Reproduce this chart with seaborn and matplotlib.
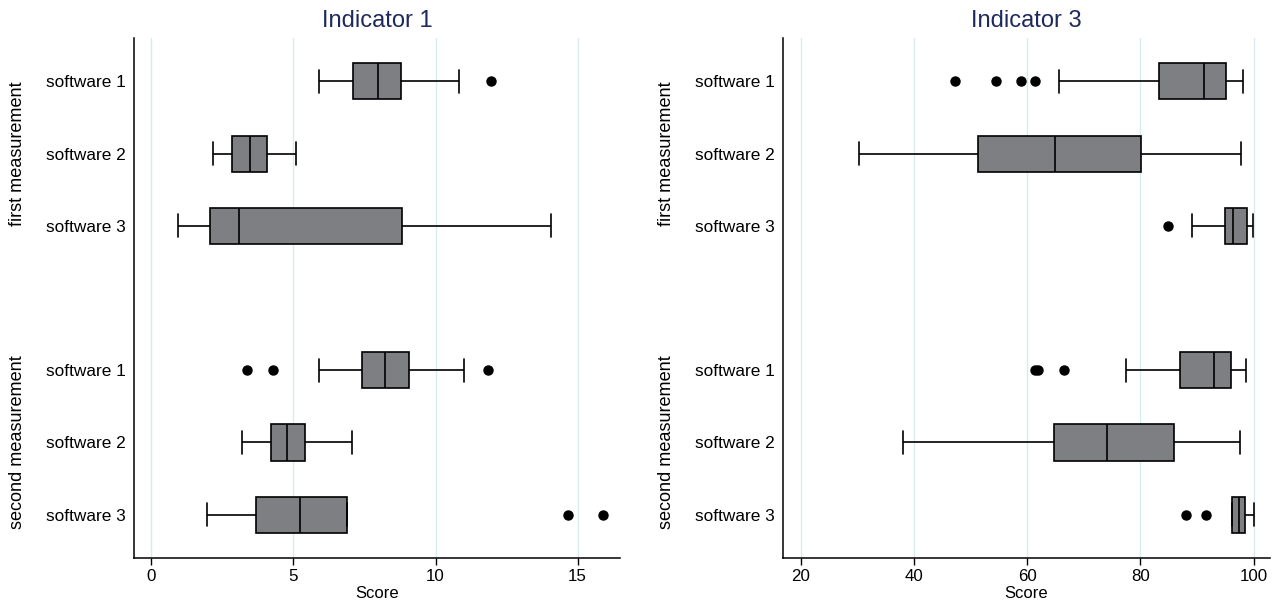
import numpy as np
import pandas as pd
import matplotlib
matplotlib.use("Agg")
import matplotlib.pyplot as plt
import matplotlib.transforms as mtransforms
import seaborn as sns

# ---- data ----
groups = ["first measurement", "second measurement"]
software = ["software 1", "software 2", "software 3"]

# Indicator 1: five-number summaries per (measurement, software): low whisker, Q1, median, Q3, high whisker
ind1_wlo = [5.90, 2.16, 0.94, 5.91, 3.18, 1.96]
ind1_q1 = [7.11, 2.83, 2.08, 7.42, 4.22, 3.68]
ind1_med = [7.99, 3.48, 3.07, 8.21, 4.78, 5.24]
ind1_q3 = [8.80, 4.06, 8.81, 9.05, 5.41, 6.87]
ind1_whi = [10.82, 5.10, 14.06, 11.01, 7.05, 6.87]
ind1_out = [[11.95], [], [], [3.38, 4.29, 11.84], [], [14.67, 15.90]]

# Indicator 3
ind3_wlo = [65.6, 30.3, 89.2, 77.4, 38.1, 96.2]
ind3_q1 = [83.3, 51.3, 94.9, 87.0, 64.8, 96.2]
ind3_med = [91.2, 64.9, 96.3, 93.0, 74.2, 97.5]
ind3_q3 = [95.2, 80.1, 98.8, 96.0, 85.9, 98.5]
ind3_whi = [98.2, 97.8, 99.9, 98.6, 97.6, 100.0]
ind3_out = [[47.2, 54.6, 59.0, 61.4], [], [84.8], [61.4, 62.0, 66.6], [], [88.1, 91.6]]

keys = [f"{g}|{s}" for g in groups for s in software]
order = keys[:3] + ["gap"] + keys[3:]


def sample_from_summary(wlo, q1, med, q3, whi, out):
    """Observations whose quartiles/whiskers reproduce the read summary."""
    lo = sorted([o for o in out if o < q1])
    hi = sorted([o for o in out if o > q3])
    a = len(lo) + 1
    b = len(hi) + 1
    m = max(a, b, 1)
    below = lo + [wlo] + [q1] * (m - a)
    mid1 = [q1] * (m - 1)
    mid2 = [med] * (m - 1)
    above = [q3] * (m - b) + [whi] + hi
    return below + [q1] + mid1 + [med] + mid2 + [q3] + above


def build(wlo, q1, med, q3, whi, out):
    rows = []
    for i, k in enumerate(keys):
        for v in sample_from_summary(wlo[i], q1[i], med[i], q3[i], whi[i], out[i]):
            rows.append({"group": k, "score": v})
    return pd.DataFrame(rows)


df1 = build(ind1_wlo, ind1_q1, ind1_med, ind1_q3, ind1_whi, ind1_out)
df3 = build(ind3_wlo, ind3_q1, ind3_med, ind3_q3, ind3_whi, ind3_out)

sns.set_theme(style="white")
plt.rcParams["font.family"] = ["Liberation Sans", "DejaVu Sans"]
plt.rcParams["text.color"] = "black"
plt.rcParams["axes.labelcolor"] = "black"
plt.rcParams["xtick.color"] = "black"
plt.rcParams["ytick.color"] = "black"

fig = plt.figure(figsize=(12.77, 6.04), dpi=100)
ax1 = fig.add_axes([134 / 1277, 46 / 604, 486 / 1277, 520 / 604])
ax3 = fig.add_axes([783 / 1277, 46 / 604, 487 / 1277, 520 / 604])

box_color = "#7e7f83"
title_color = "#1f2a5c"
grid_color = "#d8ebf1"

panels = [
    (ax1, df1, "Indicator 1", (-0.61, 16.49), [0, 5, 10, 15]),
    (ax3, df3, "Indicator 3", (16.9, 102.9), [20, 40, 60, 80, 100]),
]

for ax, df, title, xlim, xticks in panels:
    for xt in xticks:
        ax.axvline(xt, color=grid_color, lw=1.0, zorder=0)
    sns.boxplot(
        data=df, x="score", y="group", order=order, orient="h", ax=ax,
        color=box_color, saturation=1, linecolor="black", linewidth=1.2,
        width=0.5, whis=1.5, fliersize=6.5,
        flierprops=dict(marker="o", markerfacecolor="black", markeredgecolor="black"),
        capwidths=0.32,
    )
    ax.set_xlim(*xlim)
    ax.set_ylim(6.6, -0.6)
    ax.set_xticks(xticks)
    ax.set_xticklabels([str(t) for t in xticks], fontsize=12.2)
    ax.set_yticks([0, 1, 2, 4, 5, 6])
    ax.set_yticklabels(software + software, fontsize=12.4)
    ax.tick_params(axis="y", length=0, pad=6)
    ax.tick_params(axis="x", length=5, width=1, color="black", direction="out", pad=3, bottom=True)
    ax.set_ylabel("")
    ax.set_xlabel("Score", fontsize=12, labelpad=1)
    ax.set_title(title, fontsize=17, color=title_color, pad=8)
    for side in ["top", "right"]:
        ax.spines[side].set_visible(False)
    for side in ["left", "bottom"]:
        ax.spines[side].set_color("black")
        ax.spines[side].set_linewidth(1.1)
    trans = mtransforms.blended_transform_factory(ax.transAxes, ax.transData)
    ax.text(-0.240, 1, groups[0], rotation=90, ha="center", va="center",
            fontsize=13.1, transform=trans)
    ax.text(-0.240, 5, groups[1], rotation=90, ha="center", va="center",
            fontsize=13.1, transform=trans)

fig.savefig("out.png", dpi=100, facecolor="white")
